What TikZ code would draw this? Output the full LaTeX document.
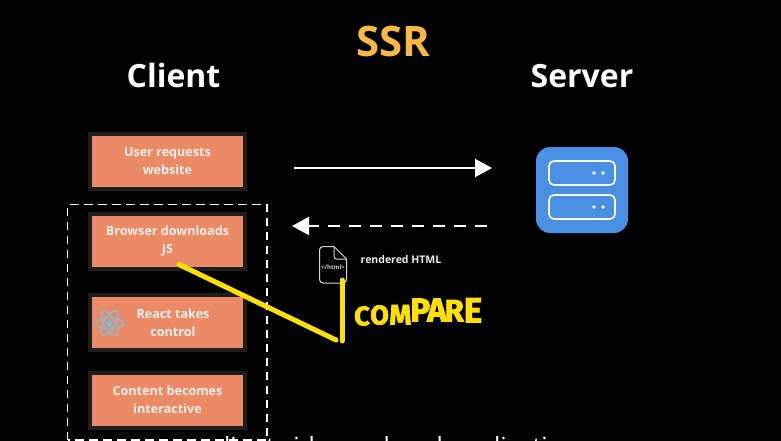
\documentclass[tikz,border=0pt]{standalone}
\usepackage{fontspec}
\setmainfont{Open Sans}
\newfontfamily\handfont[FakeBold=2.5]{Fira Sans Bold}
\usetikzlibrary{arrows.meta}
\definecolor{boxfill}{HTML}{EC8967}
\definecolor{boxedge}{HTML}{1E1E1E}
\definecolor{boxtext}{HTML}{FFF1E8}
\definecolor{gold}{HTML}{F7B844}
\definecolor{serverblue}{HTML}{4A90E2}
\definecolor{marker}{HTML}{FFE000}
\definecolor{reactblue}{HTML}{8FB7CC}
\tikzset{
  stepbox/.style={draw=boxedge,line width=4pt,fill=boxfill,minimum width=155pt,minimum height=55pt,inner sep=0pt,align=center,
    text=boxtext,font=\fontsize{12.6}{18}\selectfont\bfseries},
  heading/.style={text=white,font=\fontsize{32}{36}\selectfont\bfseries,inner sep=0pt},
  flowline/.style={white,line width=2.2pt,-{Triangle[length=17pt,width=18pt]}},
  markerline/.style={marker,line width=5pt,line cap=round,line join=round},
  rack/.style={draw=white,line width=1.6pt,rounded corners=5pt,minimum width=66pt,minimum height=24pt,inner sep=0pt},
  rackdot/.style={circle,fill=white,minimum size=3.8pt,inner sep=0pt},
  orbit/.style={draw=reactblue,line width=1.4pt}
}
\newcommand{\hl}[3]{\raisebox{#1pt}{\fontsize{#2}{#2}\selectfont #3}}
\begin{document}
\begin{tikzpicture}[x=1pt,y=-1pt]
\useasboundingbox (0,0) rectangle (781,441);
\fill[black] (0,0) rectangle (781,441);
\begin{scope}
\clip (0,0) rectangle (781,441);
\node[text=gold,font=\fontsize{42}{46}\selectfont\bfseries,inner sep=0pt] (title) at (393,41) {SSR};
\node[heading] (client) at (173.5,76) {Client};
\node[heading] (server) at (582,76) {Server};
\node[stepbox] (request) at (167.5,161) {User requests\\website};
\node[stepbox] (download) at (167.5,241.5) {Browser downloads\\JS};
\node[stepbox] (react) at (167.5,322.5) {\hspace{11pt}React takes\\\hspace{11pt}control};
\node[stepbox] (content) at (167.5,400) {Content becomes\\interactive};
\draw[white,line width=1.5pt,dash pattern=on 8.5pt off 5.5pt] (67.5,440) -- (67.5,204.5) -- (267,204.5) -- (267,440) -- cycle;
% react logo
\coordinate (atom) at (109.5,323);
\draw[orbit] (atom) ellipse[x radius=14pt,y radius=5.5pt];
\draw[orbit,rotate around={60:(atom)}] (atom) ellipse[x radius=14pt,y radius=5.5pt];
\draw[orbit,rotate around={120:(atom)}] (atom) ellipse[x radius=14pt,y radius=5.5pt];
\fill[reactblue!80!cyan] (atom) circle[radius=3pt];
% arrows
\coordinate (reqstart) at (294,168);
\coordinate (reqend) at (492,168);
\coordinate (respstart) at (487,226);
\coordinate (respend) at (292,226);
\draw[flowline] (reqstart) -- (reqend);
\draw[flowline,dash pattern=on 12pt off 9pt] (respstart) -- (respend);
% server
\node[fill=serverblue,rounded corners=14pt,minimum width=92pt,minimum height=86pt,inner sep=0pt] (host) at (582,190) {};
\node[rack] (rackone) at (582,173) {};
\node[rack] (racktwo) at (582,207) {};
\node[rackdot] at (594,173) {}; \node[rackdot] at (603,173) {};
\node[rackdot] at (594,207) {}; \node[rackdot] at (603,207) {};
% file
\draw[white!85!black,line width=1pt,rounded corners=3.5pt] (334,246.5) -- (319.5,246.5) -- (319.5,283) -- (346.5,283) -- (346.5,259);
\draw[white!85!black,line width=1pt,line join=round] (334,246.5) -- (346.5,259);
\draw[white!85!black,line width=1pt,rounded corners=2.5pt] (334,246.5) -- (334,259) -- (346.5,259);
\node[text=white!80!black,font=\fontsize{6}{6}\selectfont\bfseries,inner sep=0pt] (filetag) at (333,267) {</html>};
\node[text=white!93!black,font=\fontsize{10.5}{12}\selectfont\bfseries,inner sep=0pt] (filelabel) at (401,260) {rendered HTML};
% marker strokes
\coordinate (strokea) at (179,264.5);
\coordinate (strokeb) at (336,340);
\coordinate (strokec) at (342,341);
\coordinate (stroked) at (342,280);
\draw[markerline] (strokea) -- (strokeb);
\draw[markerline] (strokec) -- (stroked);
\node[text=marker,inner sep=0pt,anchor=west,font=\handfont] (compare) at (354,312) {%
\hl{-6}{27}{C}\kern0.5pt\hl{-5}{27}{O}\kern0.5pt\hl{-5}{28}{M}\kern-1pt\hl{-2}{33}{P}\kern-3pt\hl{-2}{33}{A}\kern-2pt\hl{-2}{31}{R}\kern0pt\hl{-3}{35}{E}};
% cut-off caption
\node[text=white,font=\fontsize{25}{27}\selectfont,inner sep=0pt,anchor=base west] (caption) at (212,455) {client side rendered application};
\end{scope}
\end{tikzpicture}
\end{document}
